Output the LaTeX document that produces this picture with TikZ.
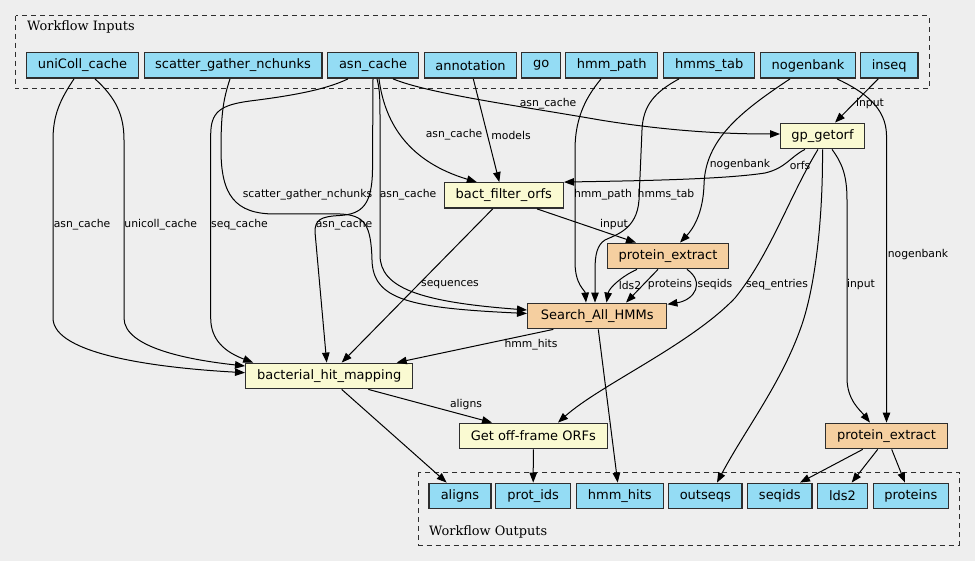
\documentclass[tikz,border=0pt]{standalone}
\usepackage{fontspec}
\setmainfont{DejaVu Sans}
\newfontfamily\clusterfont{DejaVu Serif}
\usetikzlibrary{arrows.meta}
\definecolor{bg}{HTML}{EEEEEE}
\definecolor{iofill}{HTML}{94DCF4}
\definecolor{stepfill}{HTML}{FAFAD2}
\definecolor{subfill}{HTML}{F5CFA0}
\definecolor{bordercol}{HTML}{2E2E2E}
\begin{document}
\begin{tikzpicture}[x=1pt,y=-1pt,
 box/.style={draw=bordercol, line width=1.4pt, minimum height=25.4pt, inner sep=0pt, font=\fontsize{13}{15}\selectfont, text=black},
 iobox/.style={box, fill=iofill},
 stepbox/.style={box, fill=stepfill},
 subbox/.style={box, fill=subfill},
 cluster/.style={draw=bordercol, dash pattern=on 5pt off 4pt, line width=1pt},
 edge/.style={draw=black, line width=1pt, -{Triangle[length=10pt,width=7.5pt]}},
 elabel/.style={inner sep=0pt, font=\fontsize{10.8}{12}\selectfont, text=black},
 clabel/.style={inner sep=0pt, anchor=west, font=\clusterfont\fontsize{12.9}{14}\selectfont}
]
\fill[bg] (0,0) rectangle (975,561);
\useasboundingbox (0,0) rectangle (975,561);

% clusters
\draw[cluster] (15.7,15.7) rectangle (929,89);
\draw[cluster] (418.7,472) rectangle (959,545);
\node[clabel] (inlbl) at (27,27.3) {Workflow Inputs};
\node[clabel] (outlbl) at (429,531.7) {Workflow Outputs};

% inputs
\node[iobox, minimum width=111.6pt] (uni) at (82.5,65.5) {uniColl\_cache};
\node[iobox, minimum width=177.6pt] (sgn) at (233,65.5) {scatter\_gather\_nchunks};
\node[iobox, minimum width=90.6pt] (asn) at (373,65.5) {asn\_cache};
\node[iobox, minimum width=92.4pt] (ann) at (470.5,65.5) {annotation};
\node[iobox, minimum width=39pt] (go) at (541.2,65.5) {go};
\node[iobox, minimum width=92pt] (hmmp) at (611.7,65.5) {hmm\_path};
\node[iobox, minimum width=91pt] (hmmt) at (709.2,65.5) {hmms\_tab};
\node[iobox, minimum width=94.6pt] (nog) at (808,65.5) {nogenbank};
\node[iobox, minimum width=57.7pt] (inseq) at (889.2,65.5) {inseq};

% steps
\node[stepbox, minimum width=83.6pt] (gp) at (822.5,136) {gp\_getorf};
\node[stepbox, minimum width=119pt] (bfo) at (503.8,195.5) {bact\_filter\_orfs};
\node[subbox, minimum width=121.4pt] (pe1) at (668,256) {protein\_extract};
\node[subbox, minimum width=139pt] (sah) at (597.2,316) {Search\_All\_HMMs};
\node[stepbox, minimum width=167pt] (bhm) at (329.2,376) {bacterial\_hit\_mapping};
\node[stepbox, minimum width=148pt] (gof) at (533.3,436) {Get off-frame ORFs};
\node[subbox, minimum width=121.6pt] (pe2) at (886.5,436) {protein\_extract};

% outputs
\node[iobox, minimum width=62pt] (aligns) at (460,496) {aligns};
\node[iobox, minimum width=75pt] (protids) at (533.2,496) {prot\_ids};
\node[iobox, minimum width=87pt] (hmmhits) at (619.8,496) {hmm\_hits};
\node[iobox, minimum width=73.3pt] (outseqs) at (705.3,496) {outseqs};
\node[iobox, minimum width=64.3pt] (seqids) at (779.8,496) {seqids};
\node[iobox, minimum width=49.6pt] (lds2) at (842.5,496) {lds2};
\node[iobox, minimum width=75pt] (proteins) at (910.8,496) {proteins};

% edges
\draw[edge] ([xshift=-8.5pt]uni.south) .. controls (60,100) and (53,115) .. (53,140) -- (53,318) .. controls (53,355) and (160,368) .. ([yshift=3.3pt]bhm.west);
\draw[edge] ([xshift=12.5pt]uni.south) .. controls (116,98) and (124,115) .. (124,140) -- (124,318) .. controls (124,348) and (190,360) .. ([yshift=10pt]bhm.west);
\draw[edge] ([xshift=-25pt]asn.south) .. controls (325,90) and (290,96) .. (250,101) .. controls (220,105) and (210.7,112) .. (210.7,135) -- (210.7,318) .. controls (210.7,340) and (225,352) .. ([xshift=-76pt]bhm.north);
\draw[edge] ([xshift=-3pt]sgn.south) .. controls (223,100) and (221,115) .. (221,150) .. controls (221,195) and (235,214) .. (275,214) -- (340,214) .. controls (365,215) and (371,225) .. (372,260) .. controls (373,300) and (410,308) .. ([yshift=2.5pt]sah.west);
\draw[edge] (asn.south) -- (372.5,170) .. controls (372,205) and (362,214) .. (340,215.5) .. controls (320,216.5) and (315,220) .. (315,232) -- ([xshift=-2.5pt]bhm.north);
\draw[edge] ([xshift=4pt]asn.south) .. controls (380,90) and (380,100) .. (380,120) -- (380,255) .. controls (380,288) and (420,302) .. ([yshift=6pt]sah.west);
\draw[edge] ([xshift=6pt]asn.south) .. controls (385,125) and (410,162) .. ([xshift=-27pt]bfo.north);
\draw[edge] ([xshift=20pt]asn.south) .. controls (430,94) and (520,106) .. (600,120) .. controls (680,133) and (740,134) .. ([yshift=2pt]gp.west);
\draw[edge] ([xshift=2.8pt]ann.south) -- ([xshift=-4.5pt]bfo.north);
\draw[edge] ([xshift=-10.7pt]hmmp.south) .. controls (588,95) and (575,115) .. (575,150) -- (575,262) .. controls (575,285) and (585,290) .. ([xshift=-11.2pt]sah.north);
\draw[edge] ([xshift=-30.2pt]hmmt.south) .. controls (655,92) and (643,105) .. (642,130) -- (639,200) .. controls (637,230) and (615,235) .. (605,240) .. controls (597,245) and (595,255) .. (595,270) -- ([xshift=-2.2pt]sah.north);
\draw[edge] ([xshift=-18pt]nog.south) .. controls (740,112) and (705,140) .. (704,185) .. controls (703,215) and (692,230) .. ([xshift=12pt]pe1.north);
\draw[edge] ([xshift=29pt]nog.south) .. controls (865,92) and (886,108) .. (886.5,135) -- (pe2.north);
\draw[edge] ([xshift=-11pt]inseq.south) -- ([xshift=12.5pt]gp.north);
\draw[edge] ([xshift=-17.5pt]gp.south) .. controls (790,157) and (786,168) .. (765,173) .. controls (720,180) and (620,181) .. (bfo.north east);
\draw[edge] ([xshift=-4.5pt]gp.south) .. controls (790,195) and (770,255) .. (735,298) .. controls (690,345) and (600,385) .. ([xshift=24.7pt]gof.north);
\draw[edge] (gp.south) .. controls (823,220) and (815,290) .. (800,330) .. controls (780,385) and (745,430) .. ([xshift=11.7pt]outseqs.north);
\draw[edge] ([xshift=9.5pt]gp.south) .. controls (842,163) and (847,175) .. (847,200) -- (847,378) .. controls (847,400) and (860,410) .. ([xshift=-16.5pt]pe2.north);
\draw[edge] ([xshift=33.2pt]bfo.south) -- ([xshift=-32pt]pe1.north);
\draw[edge] ([xshift=-11.1pt]bfo.south) -- ([xshift=12.5pt]bhm.north);
\draw[edge] ([xshift=-31pt]pe1.south) .. controls (622,276) and (609,288) .. ([xshift=9.3pt]sah.north);
\draw[edge] ([xshift=-10pt]pe1.south) -- ([xshift=28.8pt]sah.north);
\draw[edge] ([xshift=19pt]pe1.south) .. controls (705,282) and (695,300) .. ([yshift=-1.7pt]sah.north east);
\draw[edge] ([xshift=-43.9pt]sah.south) -- ([xshift=67.5pt]bhm.north);
\draw[edge] ([xshift=1.1pt]sah.south) -- ([xshift=-2.1pt]hmmhits.north);
\draw[edge] ([xshift=39.1pt]bhm.south) -- ([xshift=-41.3pt]gof.north);
\draw[edge] ([xshift=12.5pt]bhm.south) -- ([xshift=-13.3pt]aligns.north);
\draw[edge] (gof.south) -- (protids.north);
\draw[edge] ([xshift=-23.8pt]pe2.south) -- ([xshift=20.2pt]seqids.north);
\draw[edge] ([xshift=-8.8pt]pe2.south) -- ([xshift=9.2pt]lds2.north);
\draw[edge] ([xshift=5.2pt]pe2.south) -- ([xshift=-5.8pt]proteins.north);

% edge labels
\node[elabel] (l1) at (82,225) {asn\_cache};
\node[elabel] (l2) at (160.8,225) {unicoll\_cache};
\node[elabel] (l3) at (239.5,225) {seq\_cache};
\node[elabel] (l4) at (307.5,195) {scatter\_gather\_nchunks};
\node[elabel] (l5) at (344,225) {asn\_cache};
\node[elabel] (l6) at (408,195) {asn\_cache};
\node[elabel] (l7) at (454,135) {asn\_cache};
\node[elabel] (l8) at (548,104) {asn\_cache};
\node[elabel] (l9) at (511,135) {models};
\node[elabel] (l10) at (603,195) {hmm\_path};
\node[elabel] (l11) at (666,195) {hmms\_tab};
\node[elabel] (l12) at (740,165) {nogenbank};
\node[elabel] (l13) at (918,255) {nogenbank};
\node[elabel] (l14) at (870,104) {input};
\node[elabel] (l15) at (800,165) {orfs};
\node[elabel] (l16) at (777,285) {seq\_entries};
\node[elabel] (l18) at (861,285) {input};
\node[elabel] (l19) at (614,225) {input};
\node[elabel] (l20) at (450,285) {sequences};
\node[elabel] (l21) at (630,285) {lds2};
\node[elabel] (l22) at (670,285) {proteins};
\node[elabel] (l23) at (715,285) {seqids};
\node[elabel] (l24) at (531,345) {hmm\_hits};
\node[elabel] (l26) at (466,405) {aligns};
\end{tikzpicture}
\end{document}
